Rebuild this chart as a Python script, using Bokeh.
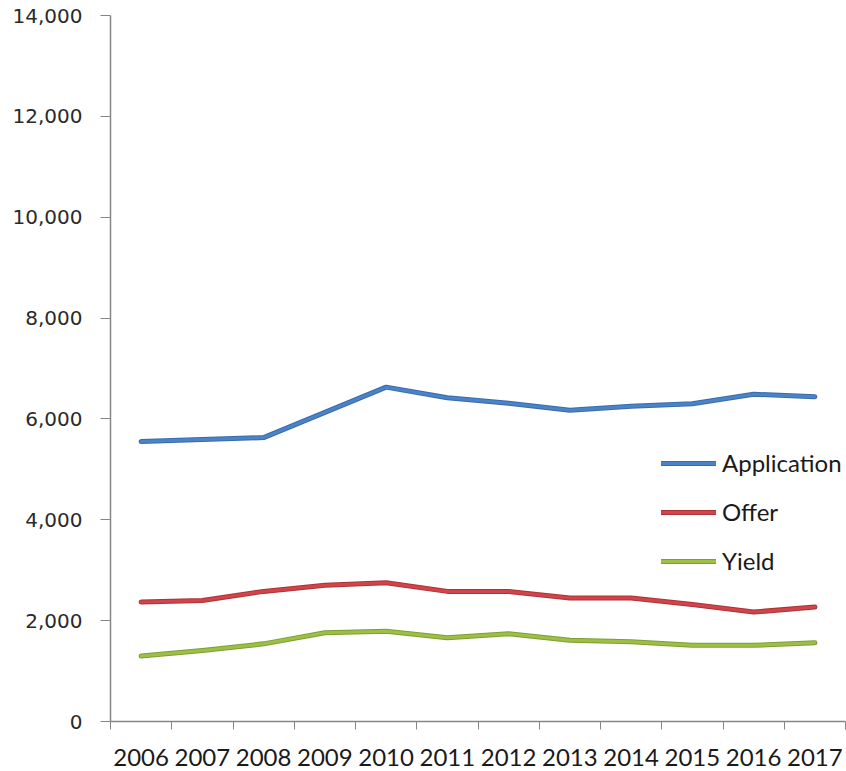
from bokeh.plotting import figure
from bokeh.models import FixedTicker, NumeralTickFormatter, Legend, LegendItem, Range1d
from bokeh.embed import file_html
from bokeh.resources import INLINE

years = [2006, 2007, 2008, 2009, 2010, 2011, 2012, 2013, 2014, 2015, 2016, 2017]
application = [5550, 5590, 5630, 6130, 6630, 6420, 6310, 6170, 6250, 6300, 6490, 6440]
offer = [2370, 2400, 2580, 2700, 2750, 2580, 2580, 2450, 2450, 2320, 2170, 2270]
yield_ = [1300, 1410, 1540, 1760, 1790, 1660, 1740, 1610, 1580, 1510, 1510, 1560]
y_ticks = [0, 2000, 4000, 6000, 8000, 10000, 12000, 14000]

series = [
    ("Application", application, "#4A83C8", "#3A6BAA"),
    ("Offer", offer, "#D2434A", "#A93539"),
    ("Yield", yield_, "#9BC043", "#7E9E36"),
]

p = figure(width=846, height=771, output_backend="svg", toolbar_location=None,
           x_range=Range1d(years[0] - 0.5, years[-1] + 0.5),
           y_range=Range1d(0, 14000),
           min_border_left=110, min_border_right=1, min_border_top=15, min_border_bottom=50)

p.outline_line_color = None
p.grid.grid_line_color = None
p.background_fill_color = "white"
p.border_fill_color = "white"

items = []
for name, vals, col, edge in series:
    r0 = p.line(years, vals, line_color=edge, line_width=5, line_join="round", line_cap="round")
    r1 = p.line(years, vals, line_color=col, line_width=3, line_join="round", line_cap="round")
    items.append(LegendItem(label=name, renderers=[r0, r1]))

# x axis
p.xaxis.ticker = FixedTicker(ticks=years, minor_ticks=[y - 0.5 for y in years] + [years[-1] + 0.5])
p.xaxis.formatter = NumeralTickFormatter(format="0")
p.xaxis.major_tick_out = 0
p.xaxis.major_tick_in = 0
p.xaxis.minor_tick_out = 8
p.xaxis.minor_tick_in = 0
p.xaxis.minor_tick_line_color = "#868686"
p.xaxis.axis_line_color = "#868686"
p.xaxis.axis_line_width = 1.5
p.xaxis.major_label_text_font = "Lato"
p.xaxis.major_label_text_font_size = "24px"
p.xaxis.major_label_text_color = "#1a1a1a"
p.xaxis.major_label_standoff = 19

# y axis
p.yaxis.ticker = FixedTicker(ticks=y_ticks, minor_ticks=[])
p.yaxis.formatter = NumeralTickFormatter(format="0,0")
p.yaxis.major_tick_out = 10
p.yaxis.major_tick_in = 0
p.yaxis.minor_tick_out = 0
p.yaxis.major_tick_line_color = "#868686"
p.yaxis.axis_line_color = "#868686"
p.yaxis.axis_line_width = 1.5
p.yaxis.major_label_text_font = "DejaVu Sans"
p.yaxis.major_label_text_font_size = "20px"
p.yaxis.major_label_text_color = "#2a2a2a"
p.yaxis.major_label_standoff = 18

legend = Legend(items=items, location=(551, 146), orientation="vertical",
                glyph_width=55, glyph_height=20, label_height=20, spacing=20,
                padding=0, margin=0, label_standoff=6,
                label_text_font="Lato", label_text_font_size="24px", label_text_color="#1a1a1a",
                border_line_color=None, background_fill_alpha=0)
p.add_layout(legend, "center")

open("out.html", "w").write(file_html(p, INLINE))
